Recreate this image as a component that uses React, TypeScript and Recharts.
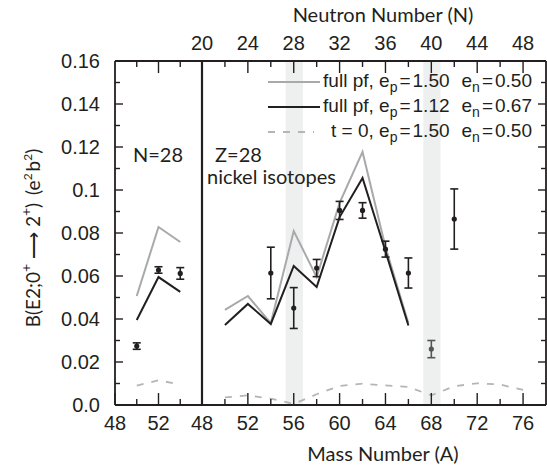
import React from 'react';
import {
  ComposedChart,
  Line,
  Scatter,
  XAxis,
  YAxis,
  ErrorBar,
  ReferenceArea,
  ReferenceLine,
} from 'recharts';

// ---------- data ----------
// Y axis
const yMajorTicks = [0, 0.02, 0.04, 0.06, 0.08, 0.1, 0.12, 0.14, 0.16];
const yMajorLabels = ['0.0', '0.02', '0.04', '0.06', '0.08', '0.1', '0.12', '0.14', '0.16'];
const yMinorTicks = [0.01, 0.03, 0.05, 0.07, 0.09, 0.11, 0.13, 0.15];

// Left panel: N=28 isotones (mass number)
const isoTicks = [48, 50, 52, 54];
const isoLabels = ['48', '', '52', ''];
const isoTopTicks = [50, 52, 54];
const isoTopLabels = ['', '', '', ''];
const isoA = [50, 52, 54];
const isoFull150 = [0.0507, 0.0828, 0.0758];
const isoFull112 = [0.0395, 0.0595, 0.0526];
const isoT0 = [0.009, 0.0115, 0.0095];
const isoExp = [0.0274, 0.0628, 0.0612];
const isoExpErr = [0.0015, 0.0015, 0.0027];

// Right panel: nickel isotopes
const niTicks = [48, 50, 52, 54, 56, 58, 60, 62, 64, 66, 68, 70, 72, 74, 76];
const niLabels = ['48', '', '52', '', '56', '', '60', '', '64', '', '68', '', '72', '', '76'];
const nTicks = [20, 22, 24, 26, 28, 30, 32, 34, 36, 38, 40, 42, 44, 46, 48];
const nLabels = ['20', '', '24', '', '28', '', '32', '', '36', '', '40', '', '44', '', '48'];
const niA = [50, 52, 54, 56, 58, 60, 62, 64, 66];
const niFull150 = [0.0442, 0.0507, 0.0381, 0.0809, 0.0595, 0.094, 0.1177, 0.0735, 0.038];
const niFull112 = [0.0372, 0.047, 0.0377, 0.0647, 0.0549, 0.0874, 0.1056, 0.0715, 0.037];
const niT0A = [50, 52, 54, 56, 58, 60, 62, 64, 66, 68, 70, 72, 74, 76];
const niT0 = [0.0035, 0.0045, 0.003, 0.0005, 0.005, 0.0089, 0.0099, 0.0091, 0.0084, 0.0045, 0.0087, 0.0101, 0.0095, 0.007];
// experimental points, indexed by neutron number N
const niExpN = [26, 28, 30, 32, 34, 36, 38, 42];
const niExp = [0.0614, 0.0451, 0.0637, 0.0905, 0.0905, 0.0725, 0.0614, 0.0865];
const niExpErr = [0.012, 0.0095, 0.004, 0.0042, 0.0036, 0.0037, 0.007, 0.014];
const ni68N = [40];
const ni68 = [0.026];
const ni68Err = [0.004];
const shadedBands = [
  [55.3, 56.8],
  [67.3, 68.8],
];

// ---------- styles ----------
const INK = '#231f20';
const GRAY = '#a7a9ac';
const DASH = '#b5b5b5';
const BAND = '#eef0ef';
const TICK_FONT = '"Liberation Sans", Arial, Helvetica, sans-serif';
const TITLE_FONT = 'Lato, "Open Sans", sans-serif';
const H = 467;

const toPts = (xs: number[], ys: number[]) => xs.map((A, i) => ({ A, v: ys[i] }));
const toErrPts = (key: string, xs: number[], ys: number[], es: number[]) =>
  xs.map((x, i) => ({ [key]: x, v: ys[i], err: es[i] }));

const isoFull150Data = toPts(isoA, isoFull150);
const isoFull112Data = toPts(isoA, isoFull112);
const isoT0Data = toPts(isoA, isoT0);
const isoExpData = toErrPts('A', isoA, isoExp, isoExpErr);
const niFull150Data = toPts(niA, niFull150);
const niFull112Data = toPts(niA, niFull112);
const niT0Data = toPts(niT0A, niT0);
const niExpData = toErrPts('N', niExpN, niExp, niExpErr);
const ni68Data = toErrPts('N', ni68N, ni68, ni68Err);

const yAllTicks = [...yMajorTicks, ...yMinorTicks].sort((a, b) => a - b);
const near = (a: number, b: number) => Math.abs(a - b) < 1e-9;

// ---------- tick renderers ----------
const YTick = (side: 'left' | 'right') => (props: any) => {
  const { x, y, payload } = props;
  const idx = yMajorTicks.findIndex((t) => near(t, payload.value));
  const major = idx >= 0;
  const len = major ? 8 : 5;
  const dir = side === 'left' ? 1 : -1;
  return (
    <g>
      <line x1={x} x2={x + dir * len} y1={y} y2={y} stroke={INK} strokeWidth={1.4} />
      {side === 'left' && major && (
        <text x={x - 15} y={y} dy="0.36em" textAnchor="end" fontFamily={TICK_FONT} fontSize={20} fill={INK}>
          {yMajorLabels[idx]}
        </text>
      )}
    </g>
  );
};

const XTick = (side: 'top' | 'bottom', ticks: number[], labels: string[], majors: number[]) => (props: any) => {
  const { x, y, payload } = props;
  const idx = ticks.findIndex((t) => near(t, payload.value));
  const label = idx >= 0 ? labels[idx] : '';
  const major = majors.some((m) => near(m, payload.value));
  const len = major ? 12 : 6;
  const dir = side === 'bottom' ? -1 : 1;
  return (
    <g>
      <line x1={x} x2={x} y1={y} y2={y + dir * len} stroke={INK} strokeWidth={1.4} />
      {label && (
        <text
          x={x}
          y={side === 'bottom' ? y + 18 : y - 18}
          dy="0.36em"
          textAnchor="middle"
          fontFamily={TICK_FONT}
          fontSize={20}
          fill={INK}
        >
          {label}
        </text>
      )}
    </g>
  );
};

const Dot = (color: string) => (props: any) => {
  const { cx, cy } = props;
  if (cx == null || cy == null) return <g />;
  return <circle cx={cx} cy={cy} r={2.6} fill={color} />;
};

// ---------- text overlay (titles, annotations, legend) ----------
const legendRows = [
  { color: GRAY, dash: undefined as string | undefined, prefix: 'full pf, e', ep: '1.50', en: '0.50', y: 87 },
  { color: INK, dash: undefined as string | undefined, prefix: 'full pf, e', ep: '1.12', en: '0.67', y: 112 },
  { color: DASH, dash: '7 8', prefix: 't = 0, e', ep: '1.50', en: '0.50', y: 137 },
];

const Overlay = () => (
  <svg
    width={547}
    height={H}
    style={{ position: 'absolute', left: 0, top: 0, pointerEvents: 'none' }}
  >
    <text transform="rotate(-90)" x={-238} y={40} textAnchor="middle" fontFamily={TITLE_FONT} fontSize={19} fill={INK}>
      B(E2;0
      <tspan dy={-9} fontSize={14}>+</tspan>
      <tspan dy={9}> ⟶ 2</tspan>
      <tspan dy={-9} fontSize={14}>+</tspan>
      <tspan dy={9}>)</tspan>
      <tspan dx={8}>(e</tspan>
      <tspan dy={-8} fontSize={12}>2</tspan>
      <tspan dy={8} dx={2}>b</tspan>
      <tspan dy={-8} fontSize={12}>2</tspan>
      <tspan dy={8}>)</tspan>
    </text>
    <text x={158} y={162} textAnchor="middle" fontFamily={TITLE_FONT} fontSize={20} fill={INK}>
      N=28
    </text>
    <text x={383} y={22} textAnchor="middle" fontFamily={TITLE_FONT} fontSize={20} fill={INK}>
      Neutron Number (N)
    </text>
    <text x={383} y={461} textAnchor="middle" fontFamily={TITLE_FONT} fontSize={20} fill={INK}>
      Mass Number (A)
    </text>
    <text x={215} y={162} fontFamily={TITLE_FONT} fontSize={20} fill={INK}>
      Z=28
    </text>
    <text x={207} y={184} fontFamily={TITLE_FONT} fontSize={20} fill={INK}>
      nickel isotopes
    </text>
    {legendRows.map((r, i) => (
      <g key={i}>
        <line
          x1={268}
          x2={r.dash ? 314 : 320}
          y1={r.y - 5}
          y2={r.y - 5}
          stroke={r.color}
          strokeWidth={2}
          strokeDasharray={r.dash}
        />
        <text x={532} y={r.y} textAnchor="end" fontFamily={TICK_FONT} fontSize={19} fill={INK}>
          {r.prefix}
          <tspan dy={5} fontSize={14}>p</tspan>
          <tspan dy={-5} dx={2}>=</tspan>
          <tspan dx={2}>{r.ep}</tspan>
          <tspan dx={12}>e</tspan>
          <tspan dy={5} fontSize={14}>n</tspan>
          <tspan dy={-5} dx={2}>=</tspan>
          <tspan dx={2}>{r.en}</tspan>
        </text>
      </g>
    ))}
  </svg>
);

const axisLine = { stroke: INK, strokeWidth: 1.8 };
const niMajors = [48, 52, 56, 60, 64, 68, 72, 76];
const nMajors = [20, 24, 28, 32, 36, 40, 44, 48];
const isoMajors = [48, 52];

export default function App() {
  return (
    <div style={{ position: 'absolute', left: 0, top: 0, width: 547, height: H }}>
      <div style={{ position: 'absolute', left: 0, top: 0 }}>
        <ComposedChart width={202} height={H} margin={{ top: 0, right: 0, bottom: 0, left: 0 }}>
          <XAxis
            xAxisId="b"
            dataKey="A"
            type="number"
            domain={[48, 56]}
            ticks={isoTicks}
            interval={0}
            height={62}
            tickSize={0}
            tickMargin={0}
            axisLine={axisLine}
            tickLine={false}
            tick={XTick('bottom', isoTicks, isoLabels, isoMajors)}
            allowDataOverflow
          />
          <XAxis
            xAxisId="t"
            dataKey="A"
            orientation="top"
            type="number"
            domain={[48, 56]}
            ticks={isoTopTicks}
            interval={0}
            height={61}
            tickSize={0}
            tickMargin={0}
            axisLine={axisLine}
            tickLine={false}
            tick={XTick('top', isoTopTicks, isoTopLabels, isoMajors)}
            allowDataOverflow
          />
          <YAxis
            yAxisId="l"
            type="number"
            domain={[0, 0.16]}
            ticks={yAllTicks}
            interval={0}
            width={115}
            tickSize={0}
            tickMargin={0}
            axisLine={axisLine}
            tickLine={false}
            tick={YTick('left')}
            allowDataOverflow
          />
          <Line xAxisId="b" yAxisId="l" data={isoT0Data} dataKey="v" stroke={DASH} strokeWidth={1.8} strokeDasharray="7 8" dot={false} isAnimationActive={false} />
          <Line xAxisId="b" yAxisId="l" data={isoFull150Data} dataKey="v" stroke={GRAY} strokeWidth={2} dot={false} isAnimationActive={false} />
          <Line xAxisId="b" yAxisId="l" data={isoFull112Data} dataKey="v" stroke={INK} strokeWidth={2} dot={false} isAnimationActive={false} />
          <Scatter xAxisId="t" yAxisId="l" data={isoExpData} dataKey="v" shape={Dot(INK)} isAnimationActive={false}>
            <ErrorBar dataKey="err" direction="y" width={4} stroke={INK} strokeWidth={1.6} isAnimationActive={false} />
          </Scatter>
        </ComposedChart>
      </div>
      <div style={{ position: 'absolute', left: 0, top: 0 }}>
        <ComposedChart width={547} height={H} margin={{ top: 0, right: 0, bottom: 0, left: 202 }}>
          <XAxis
            xAxisId="b"
            dataKey="A"
            type="number"
            domain={[48, 78]}
            ticks={niTicks}
            interval={0}
            height={62}
            tickSize={0}
            tickMargin={0}
            axisLine={axisLine}
            tickLine={false}
            tick={XTick('bottom', niTicks, niLabels, niMajors)}
            allowDataOverflow
          />
          <XAxis
            xAxisId="t"
            dataKey="N"
            orientation="top"
            type="number"
            domain={[20, 50]}
            ticks={nTicks}
            interval={0}
            height={61}
            tickSize={0}
            tickMargin={0}
            axisLine={axisLine}
            tickLine={false}
            tick={XTick('top', nTicks, nLabels, nMajors)}
            allowDataOverflow
          />
          <YAxis
            yAxisId="r"
            orientation="right"
            type="number"
            domain={[0, 0.16]}
            ticks={yAllTicks}
            interval={0}
            width={1}
            tickSize={0}
            tickMargin={0}
            axisLine={axisLine}
            tickLine={false}
            tick={YTick('right')}
            allowDataOverflow
          />
          {shadedBands.map(([a, b], i) => (
            <ReferenceArea key={i} xAxisId="b" yAxisId="r" x1={a} x2={b} y1={0} y2={0.16} fill={BAND} fillOpacity={1} stroke="none" />
          ))}
          <ReferenceLine xAxisId="b" yAxisId="r" x={48} stroke={INK} strokeWidth={2.2} />
          <Line xAxisId="b" yAxisId="r" data={niT0Data} dataKey="v" stroke={DASH} strokeWidth={1.8} strokeDasharray="7 8" dot={false} isAnimationActive={false} />
          <Line xAxisId="b" yAxisId="r" data={niFull150Data} dataKey="v" stroke={GRAY} strokeWidth={2} dot={false} isAnimationActive={false} />
          <Line xAxisId="b" yAxisId="r" data={niFull112Data} dataKey="v" stroke={INK} strokeWidth={2} dot={false} isAnimationActive={false} />
          <Scatter xAxisId="t" yAxisId="r" data={niExpData} dataKey="v" shape={Dot(INK)} isAnimationActive={false}>
            <ErrorBar dataKey="err" direction="y" width={4} stroke={INK} strokeWidth={1.6} isAnimationActive={false} />
          </Scatter>
          <Scatter xAxisId="t" yAxisId="r" data={ni68Data} dataKey="v" shape={Dot('#555555')} isAnimationActive={false}>
            <ErrorBar dataKey="err" direction="y" width={4} stroke="#555555" strokeWidth={1.6} isAnimationActive={false} />
          </Scatter>
        </ComposedChart>
      </div>
      <Overlay />
    </div>
  );
}
